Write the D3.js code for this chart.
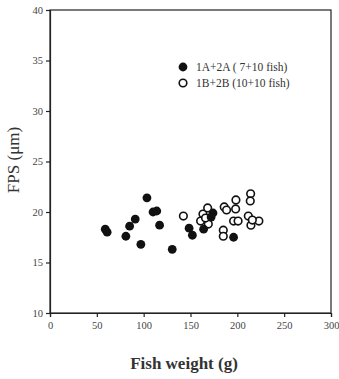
<!DOCTYPE html>
<html><head><meta charset="utf-8">
<script src="https://cdn.jsdelivr.net/npm/d3@7"></script>
<style>body{margin:0;background:#fff}svg{display:block}</style>
</head><body>
<script>
const xTicks = [0, 50, 100, 150, 200, 250, 300];
const yTicks = [10, 15, 20, 25, 30, 35, 40];
const seriesNames = ["1A+2A ( 7+10 fish)", "1B+2B (10+10 fish)"];
const groupAWeight = [59, 61, 81, 85, 91, 97, 103.5, 110, 114, 117, 130.5, 148.5, 152, 164, 172, 174, 196];
const groupAFPS = [18.3, 18.0, 17.6, 18.6, 19.3, 16.8, 21.4, 20.0, 20.1, 18.7, 16.3, 18.4, 17.7, 18.3, 19.5, 19.9, 17.5];
const groupBWeight = [142.4, 163.3, 160.8, 168.3, 169, 166, 186, 188.5, 198.5, 198.2, 196, 200.8, 185, 185, 214.2, 213.8, 211.7, 214.5, 223, 216];
const groupBFPS = [19.6, 19.8, 19.1, 20.4, 18.8, 19.4, 20.5, 20.2, 21.2, 20.3, 19.1, 19.1, 18.2, 17.6, 21.8, 21.1, 19.6, 18.7, 19.1, 19.2];

const W = 339, H = 379;
const m = {l: 50, r: 8, t: 10, b: 66};
const svg = d3.select("body").append("svg").attr("width", W).attr("height", H);
const x = d3.scaleLinear().domain([0, 300]).range([m.l, 331]);
const y = d3.scaleLinear().domain([10, 40]).range([313, m.t]);
const font = "'Liberation Serif', 'Times New Roman', serif";

svg.append("rect").attr("x", x(0)).attr("y", y(40)).attr("width", x(300) - x(0)).attr("height", y(10) - y(40))
  .attr("fill", "none").attr("stroke", "#222").attr("stroke-width", 1.2);

const xa = svg.append("g").attr("transform", `translate(0,${y(10)})`)
  .call(d3.axisBottom(x).tickValues(xTicks).tickSize(4).tickPadding(5));
const ya = svg.append("g").attr("transform", `translate(${x(0)},0)`)
  .call(d3.axisLeft(y).tickValues(yTicks).tickSize(4).tickPadding(3));
[xa, ya].forEach(a => {
  a.select(".domain").attr("stroke", "#222").attr("stroke-width", 1.2);
  a.selectAll(".tick line").attr("stroke", "#222").attr("stroke-width", 1.2);
  a.selectAll(".tick text").attr("font-family", font).attr("font-size", 10.5).attr("fill", "#444");
});

svg.append("text").attr("x", 184).attr("y", 369).attr("text-anchor", "middle")
  .attr("font-family", font).attr("font-size", 17).attr("font-weight", "bold").attr("fill", "#333")
  .text("Fish weight (g)");
svg.append("text").attr("transform", "translate(19,160) rotate(-90)").attr("text-anchor", "middle")
  .attr("font-family", font).attr("font-size", 17).attr("fill", "#333")
  .text("FPS (\u03bcm)");

const r = 4.4;
svg.append("g").selectAll("circle").data(groupBWeight.map((w, i) => [w, groupBFPS[i]])).join("circle")
  .attr("cx", d => x(d[0])).attr("cy", d => y(d[1])).attr("r", r - 0.6)
  .attr("fill", "#fff").attr("stroke", "#111").attr("stroke-width", 1.6);
svg.append("g").selectAll("circle").data(groupAWeight.map((w, i) => [w, groupAFPS[i]])).join("circle")
  .attr("cx", d => x(d[0])).attr("cy", d => y(d[1])).attr("r", r).attr("fill", "#111");

const lg = svg.append("g");
seriesNames.forEach((s, i) => {
  const cy = 67 + i * 16;
  const c = lg.append("circle").attr("cx", 183).attr("cy", cy).attr("r", i ? r - 0.6 : r);
  if (i) c.attr("fill", "#fff").attr("stroke", "#111").attr("stroke-width", 1.6);
  else c.attr("fill", "#111");
  lg.append("text").attr("x", 196).attr("y", cy + 4).attr("font-family", font).attr("font-size", 11.5)
    .attr("fill", "#333").text(s);
});
</script>
</body></html>
